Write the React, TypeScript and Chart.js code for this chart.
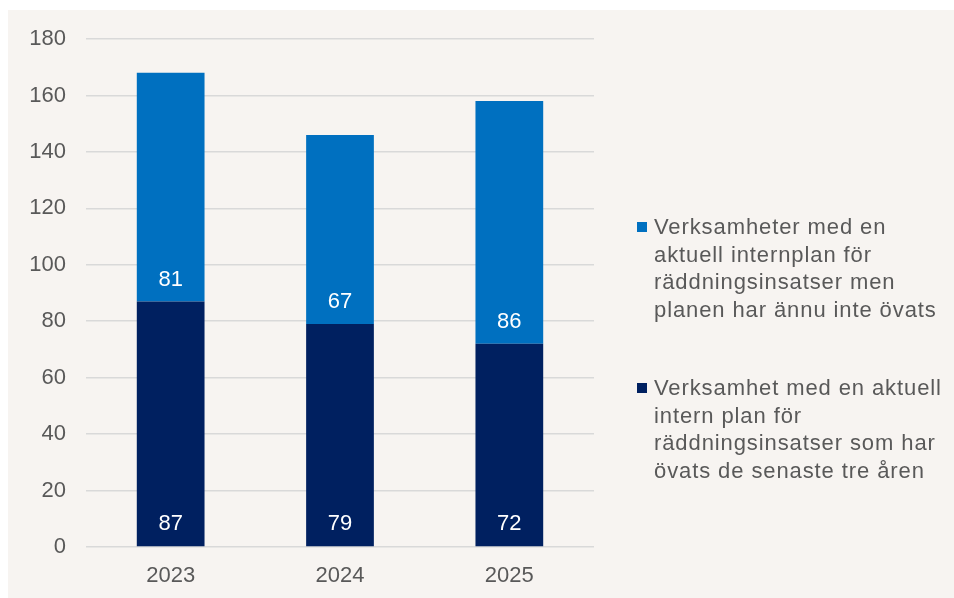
import React, { useEffect, useRef } from "react";
import { Chart, registerables } from "chart.js";

Chart.register(...registerables);

const categories = ["2023", "2024", "2025"];
const exercisedValues = [87, 79, 72];
const notExercisedValues = [81, 67, 86];
const notExercisedLabel = [
  "Verksamheter med en",
  "aktuell internplan för",
  "räddningsinsatser men",
  "planen har ännu inte övats",
];
const exercisedLabel = [
  "Verksamhet med en aktuell",
  "intern plan för",
  "räddningsinsatser som har",
  "övats de senaste tre åren",
];
const yMin = 0;
const yMax = 180;
const yStep = 20;

const FONT = '"Liberation Sans", Arial, sans-serif';
const DARK = "#002060";
const BLUE = "#0070C0";
const TEXT = "#595959";

const valueLabelPlugin = {
  id: "valueLabels",
  afterDatasetsDraw(chart: any) {
    const ctx = chart.ctx;
    ctx.save();
    ctx.font = `22px ${FONT}`;
    ctx.fillStyle = "#ffffff";
    ctx.textAlign = "center";
    ctx.textBaseline = "middle";
    chart.data.datasets.forEach((ds: any, di: number) => {
      const meta = chart.getDatasetMeta(di);
      meta.data.forEach((el: any, i: number) => {
        const v = ds.data[i];
        ctx.fillText(String(v), el.x, el.base - 22);
      });
    });
    ctx.restore();
  },
};

const legendPlugin = {
  id: "sideLegend",
  afterDraw(chart: any) {
    const ctx = chart.ctx;
    ctx.save();
    ctx.font = `22px ${FONT}`;
    try {
      (ctx as any).letterSpacing = "0.9px";
    } catch (e) {}
    ctx.textAlign = "left";
    ctx.textBaseline = "middle";
    const pitch = 27.7;
    const items = [
      { ds: chart.data.datasets[1], top: 218 },
      { ds: chart.data.datasets[0], top: 379 },
    ];
    items.forEach((it) => {
      ctx.fillStyle = it.ds.backgroundColor;
      ctx.fillRect(629, it.top - 6, 10, 10);
      ctx.fillStyle = TEXT;
      (it.ds.legendLines as string[]).forEach((line, li) => {
        ctx.fillText(line, 646, it.top + li * pitch);
      });
    });
    ctx.restore();
  },
};

export default function App() {
  const ref = useRef<HTMLCanvasElement | null>(null);
  useEffect(() => {
    if (!ref.current) return;
    const chart = new Chart(ref.current, {
      type: "bar",
      data: {
        labels: categories,
        datasets: [
          {
            label: exercisedLabel.join(" "),
            legendLines: exercisedLabel,
            data: exercisedValues,
            backgroundColor: DARK,
            borderWidth: 0,
          } as any,
          {
            label: notExercisedLabel.join(" "),
            legendLines: notExercisedLabel,
            data: notExercisedValues,
            backgroundColor: BLUE,
            borderWidth: 0,
          } as any,
        ],
      },
      options: {
        animation: false,
        responsive: false,
        maintainAspectRatio: false,
        layout: { padding: { top: 29, right: 360, bottom: 0, left: 0 } },
        plugins: {
          legend: { display: false },
          tooltip: { enabled: false },
          title: { display: false },
        },
        datasets: { bar: { categoryPercentage: 1, barPercentage: 0.4 } },
        scales: {
          x: {
            stacked: true,
            grid: { display: false, drawTicks: false },
            border: { display: false },
            ticks: { color: TEXT, font: { family: FONT, size: 22 }, padding: 16 },
            afterFit: (s: any) => {
              s.height = 51;
              s.paddingLeft = 0;
              s.paddingRight = 0;
            },
          },
          y: {
            stacked: true,
            min: yMin,
            max: yMax,
            grid: { color: "#d9d9d9", lineWidth: 1.5, drawTicks: false },
            border: { display: false },
            ticks: {
              stepSize: yStep,
              color: TEXT,
              font: { family: FONT, size: 22 },
              padding: 20,
            },
            afterFit: (s: any) => {
              s.width = 78;
              s.paddingTop = 0;
              s.paddingBottom = 0;
            },
          },
        },
      } as any,
      plugins: [valueLabelPlugin, legendPlugin],
    });
    return () => chart.destroy();
  }, []);

  return (
    <div
      style={{
        position: "absolute",
        left: 8,
        top: 10,
        width: 946,
        height: 588,
        background: "#f7f4f1",
      }}
    >
      <canvas ref={ref} width={946} height={588} style={{ display: "block" }} />
    </div>
  );
}
